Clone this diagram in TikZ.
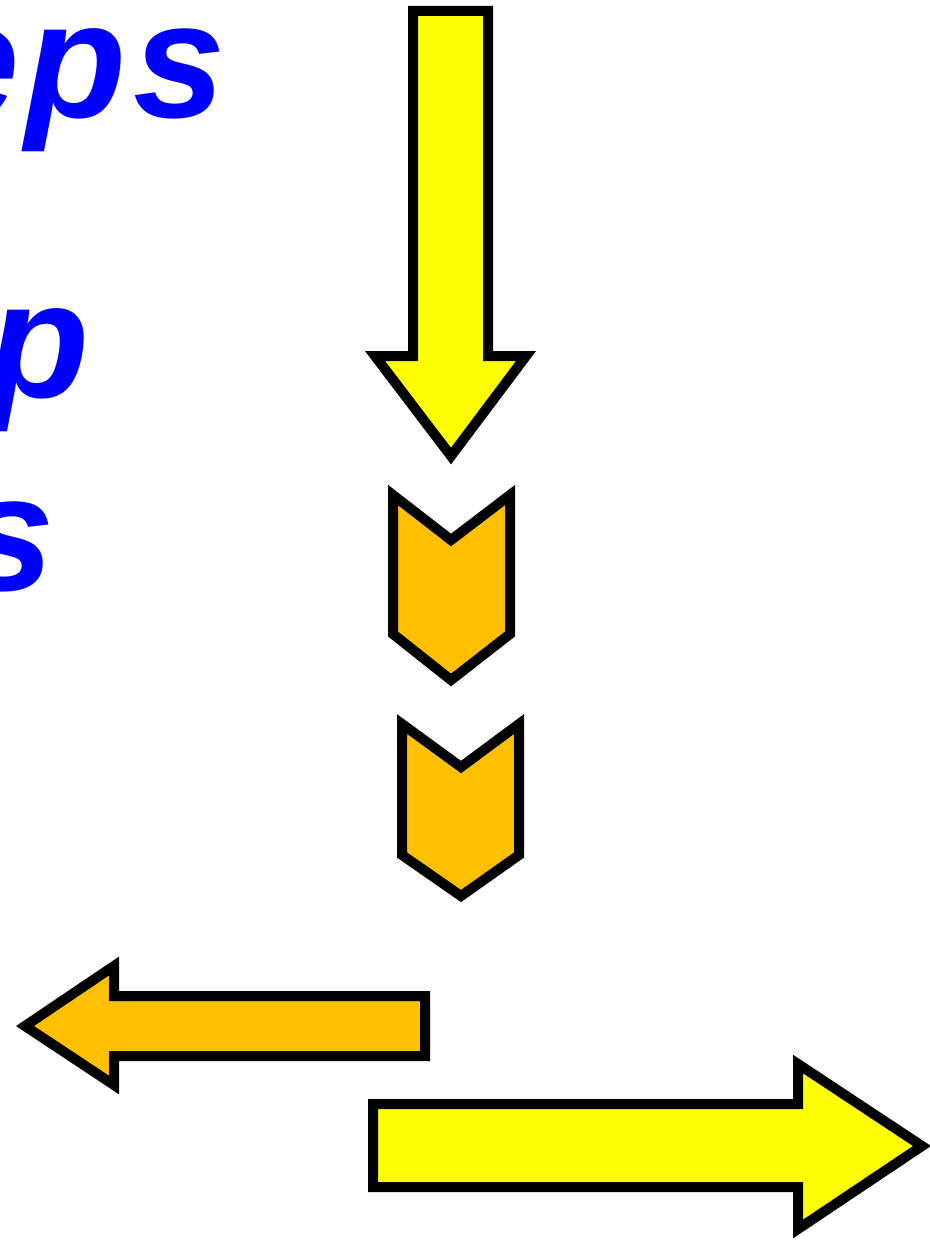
\documentclass[tikz,border=0pt]{standalone}
\usepackage{fontspec}
\setmainfont{Liberation Sans}
\definecolor{ylw}{RGB}{255,255,0}
\definecolor{org}{RGB}{255,192,0}
\definecolor{txtblue}{RGB}{0,0,255}
\begin{document}
\begin{tikzpicture}[x=0.75pt,y=-0.75pt,
  shp/.style={draw=black,line width=7.5pt,miter limit=10},
  lbl/.style={anchor=base east,inner sep=0pt,text=txtblue,font=\fontsize{124}{124}\selectfont\bfseries\itshape\addfontfeature{LetterSpace=4}}]
\useasboundingbox (0,0) rectangle (930,1241);
\clip (0,0) rectangle (930,1241);
% texts
\node[lbl] (t1) at (226,118) {eps};
\node[lbl] (t2) at (90,397) {p};
\node[lbl] (t3) at (55,590) {s};
% down arrow
\draw[shp,fill=ylw] (413,11) -- (488,11) -- (488,356) -- (526,356) -- (451,456) -- (375,356) -- (413,356) -- cycle;
% chevrons
\draw[shp,fill=org] (393,495) -- (451,540) -- (510,495) -- (510,634) -- (451,680) -- (393,634) -- cycle;
\draw[shp,fill=org] (402,724) -- (461,767) -- (519,724) -- (519,855) -- (461,896) -- (402,855) -- cycle;
% left arrow
\draw[shp,fill=org] (425,996) -- (425,1056) -- (114,1056) -- (114,1085) -- (25,1026) -- (114,966) -- (114,996) -- cycle;
% right arrow
\draw[shp,fill=ylw] (373,1104) -- (798,1104) -- (798,1064) -- (922,1146) -- (798,1229) -- (798,1187) -- (373,1187) -- cycle;
\end{tikzpicture}
\end{document}
